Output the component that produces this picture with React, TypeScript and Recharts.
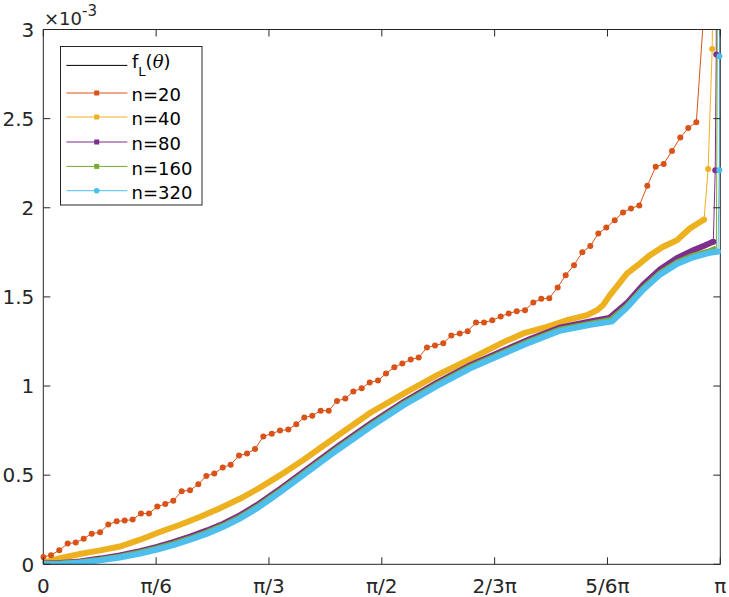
import React from 'react';
import { LineChart, Line, XAxis, YAxis, Legend, Customized } from 'recharts';

const CHART_W = 729;
const CHART_H = 597;
const AXIS_COLOR = '#262626';
const FONT = '"DejaVu Sans", "Liberation Sans", sans-serif';

const BLACK = '#000000';
const ORANGE = '#D95319';
const YELLOW = '#EDB120';
const PURPLE = '#7E2F8E';
const GREEN = '#77AC30';
const CYAN = '#4DBEEE';

// x in units of pi, y in units of 1e-3
const xTickValues = [0, 1 / 6, 1 / 3, 1 / 2, 2 / 3, 5 / 6, 1];
const xTickLabels = ['0', 'π/6', 'π/3', 'π/2', '2/3π', '5/6π', 'π'];
const yTickValues = [0, 0.5, 1, 1.5, 2, 2.5, 3];
const yTickLabels = ['0', '0.5', '1', '1.5', '2', '2.5', '3'];

const fLTheta = [0, 0.025, 0.054, 0.084, 0.113, 0.143, 0.168, 0.192, 0.217, 0.242, 0.266, 0.291, 0.316, 0.335, 0.35, 0.384, 0.434, 0.483, 0.531, 0.581, 0.63, 0.679, 0.719, 0.763, 0.808, 0.84, 0.862, 0.886, 0.911, 0.936, 0.96, 0.985, 1.0];
const fLValue = [0, 0.002, 0.009, 0.022, 0.038, 0.06, 0.083, 0.108, 0.138, 0.172, 0.21, 0.258, 0.315, 0.365, 0.405, 0.5, 0.64, 0.77, 0.89, 1.0, 1.098, 1.18, 1.245, 1.31, 1.343, 1.362, 1.44, 1.54, 1.625, 1.685, 1.722, 1.748, 1.756];

const n20Theta = [0, 0.0114, 0.0236, 0.036, 0.0479, 0.0597, 0.0715, 0.0838, 0.096, 0.1084, 0.1202, 0.132, 0.1443, 0.1561, 0.1684, 0.1802, 0.192, 0.2044, 0.2167, 0.229, 0.2408, 0.2526, 0.265, 0.2768, 0.2891, 0.3009, 0.3127, 0.325, 0.3374, 0.3496, 0.3619, 0.3737, 0.3855, 0.3973, 0.4097, 0.4216, 0.4338, 0.4461, 0.4579, 0.4703, 0.4821, 0.4944, 0.5062, 0.5185, 0.5303, 0.5427, 0.5545, 0.5667, 0.5786, 0.5908, 0.6027, 0.6151, 0.6269, 0.6391, 0.651, 0.6632, 0.6756, 0.6874, 0.6993, 0.7115, 0.7238, 0.7356, 0.7474, 0.7598, 0.7716, 0.7839, 0.7962, 0.808, 0.8198, 0.8316, 0.844, 0.8563, 0.8681, 0.8804, 0.8922, 0.9046, 0.9164, 0.9287, 0.9409, 0.9527, 0.9646, 0.9767, 0.9888, 1.0];
const n20Value = [0.041, 0.051, 0.079, 0.116, 0.122, 0.144, 0.172, 0.18, 0.223, 0.241, 0.245, 0.251, 0.285, 0.285, 0.324, 0.338, 0.357, 0.41, 0.415, 0.449, 0.496, 0.509, 0.543, 0.559, 0.61, 0.621, 0.647, 0.717, 0.733, 0.75, 0.756, 0.786, 0.823, 0.834, 0.862, 0.862, 0.916, 0.93, 0.969, 0.988, 1.02, 1.031, 1.07, 1.106, 1.126, 1.149, 1.16, 1.216, 1.227, 1.24, 1.283, 1.295, 1.308, 1.356, 1.356, 1.369, 1.39, 1.407, 1.42, 1.425, 1.469, 1.489, 1.493, 1.553, 1.622, 1.678, 1.751, 1.785, 1.856, 1.889, 1.93, 1.974, 1.996, 2.013, 2.123, 2.23, 2.246, 2.319, 2.394, 2.447, 2.48, 3.15, 6.0, 12.0];

const n40Theta = [0, 0.025, 0.054, 0.084, 0.113, 0.143, 0.172, 0.202, 0.231, 0.261, 0.291, 0.32, 0.35, 0.384, 0.434, 0.483, 0.531, 0.581, 0.63, 0.679, 0.709, 0.744, 0.774, 0.803, 0.818, 0.827, 0.837, 0.849, 0.862, 0.881, 0.896, 0.915, 0.936, 0.955, 0.976, 0.982, 0.988, 0.994, 1.0];
const n40Value = [0.01, 0.035, 0.058, 0.078, 0.1, 0.138, 0.181, 0.222, 0.265, 0.315, 0.369, 0.43, 0.5, 0.585, 0.72, 0.85, 0.955, 1.06, 1.15, 1.245, 1.295, 1.332, 1.37, 1.397, 1.425, 1.455, 1.51, 1.568, 1.631, 1.687, 1.734, 1.78, 1.818, 1.884, 1.934, 2.217, 2.89, 5.0, 12.0];

const n80Theta = [0, 0.025, 0.054, 0.084, 0.113, 0.143, 0.168, 0.192, 0.217, 0.242, 0.266, 0.291, 0.316, 0.335, 0.35, 0.384, 0.434, 0.483, 0.531, 0.581, 0.63, 0.679, 0.719, 0.763, 0.808, 0.836, 0.862, 0.886, 0.911, 0.936, 0.96, 0.977, 0.9897, 0.9925, 0.994, 0.9966, 1.0];
const n80Value = [0.004, 0.007, 0.016, 0.032, 0.05, 0.074, 0.098, 0.124, 0.155, 0.19, 0.228, 0.276, 0.333, 0.383, 0.423, 0.518, 0.658, 0.788, 0.908, 1.018, 1.116, 1.198, 1.263, 1.327, 1.362, 1.382, 1.465, 1.568, 1.655, 1.718, 1.762, 1.788, 1.81, 2.21, 2.86, 8.0, 20.0];

const n160Theta = [0, 0.025, 0.054, 0.084, 0.113, 0.143, 0.168, 0.192, 0.217, 0.242, 0.266, 0.291, 0.316, 0.335, 0.35, 0.384, 0.434, 0.483, 0.531, 0.581, 0.63, 0.679, 0.719, 0.763, 0.808, 0.838, 0.862, 0.886, 0.911, 0.936, 0.96, 0.985, 0.9941, 0.9948, 0.9954, 0.996, 1.0];
const n160Value = [0.001, 0.004, 0.012, 0.026, 0.043, 0.066, 0.089, 0.115, 0.145, 0.179, 0.217, 0.265, 0.322, 0.372, 0.412, 0.507, 0.647, 0.777, 0.897, 1.007, 1.105, 1.187, 1.252, 1.317, 1.35, 1.37, 1.448, 1.548, 1.633, 1.694, 1.732, 1.757, 1.772, 2.21, 2.86, 10.0, 25.0];

const n320Theta = [0, 0.025, 0.054, 0.084, 0.113, 0.143, 0.168, 0.192, 0.217, 0.242, 0.266, 0.291, 0.316, 0.335, 0.35, 0.384, 0.434, 0.483, 0.531, 0.581, 0.63, 0.679, 0.719, 0.763, 0.808, 0.84, 0.862, 0.886, 0.911, 0.936, 0.96, 0.985, 0.9966, 0.9985, 0.9987, 0.9993, 1.0];
const n320Value = [0, 0.002, 0.009, 0.022, 0.038, 0.06, 0.083, 0.108, 0.138, 0.172, 0.21, 0.258, 0.315, 0.365, 0.405, 0.5, 0.64, 0.77, 0.89, 1.0, 1.098, 1.18, 1.245, 1.31, 1.343, 1.362, 1.44, 1.54, 1.625, 1.685, 1.722, 1.748, 1.755, 2.21, 2.85, 10.0, 30.0];

type Pt = { x: number; y: number };
const zip = (t: number[], v: number[]): Pt[] => t.map((x, i) => ({ x, y: v[i] }));

// points that form the dense marker band, the rest is the thin tail near pi
const n40BandLen = 35;
const n80BandLen = 33;
const n160BandLen = 33;
const n320BandLen = 33;

const fL = zip(fLTheta, fLValue);
const n20 = zip(n20Theta, n20Value);
const n40 = zip(n40Theta, n40Value);
const n80 = zip(n80Theta, n80Value);
const n160 = zip(n160Theta, n160Value);
const n320 = zip(n320Theta, n320Value);

const band = (p: Pt[], n: number) => p.slice(0, n);
const tail = (p: Pt[], n: number) => p.slice(n - 1);

const BottomTick = (props: any) => {
  const { x, y, payload } = props;
  const i = xTickValues.findIndex((v) => Math.abs(v - payload.value) < 1e-9);
  return (
    <g>
      <line x1={x} x2={x} y1={y} y2={y - 7} stroke={AXIS_COLOR} strokeWidth={1} />
      <text x={x} y={y + 29} textAnchor="middle" fontFamily={FONT} fontSize={20} fill={AXIS_COLOR}>
        {xTickLabels[i]}
      </text>
    </g>
  );
};

const LeftTick = (props: any) => {
  const { x, y, payload } = props;
  const i = yTickValues.findIndex((v) => Math.abs(v - payload.value) < 1e-9);
  return (
    <g>
      <line x1={x} x2={x + 7} y1={y} y2={y} stroke={AXIS_COLOR} strokeWidth={1} />
      <text x={x - 9} y={y + 7.3} textAnchor="end" fontFamily={FONT} fontSize={20} fill={AXIS_COLOR}>
        {yTickLabels[i]}
      </text>
    </g>
  );
};

const EmptyTick = () => <g />;

const ExponentLabel = () => (
  <text x={44} y={25} fontFamily={FONT} fontSize={18} fill={AXIS_COLOR}>
    ×10
    <tspan fontSize={15} dy={-9}>
      -3
    </tspan>
  </text>
);

const legendRows = [
  { label: 'n=20', color: ORANGE, shape: 'square' },
  { label: 'n=40', color: YELLOW, shape: 'square' },
  { label: 'n=80', color: PURPLE, shape: 'square' },
  { label: 'n=160', color: GREEN, shape: 'square' },
  { label: 'n=320', color: CYAN, shape: 'circle' },
];
const legendRowY = [47, 71, 96, 120.4, 144.7];

const LegendBox = () => (
  <svg width={143} height={160} style={{ display: 'block' }}>
    <rect x={0.5} y={0.5} width={141.5} height={158.5} fill="#ffffff" stroke={AXIS_COLOR} strokeWidth={1} />
    <line x1={6.4} x2={67.4} y1={19.4} y2={19.4} stroke={BLACK} strokeWidth={1} />
    <text x={72} y={22.4} fontFamily={FONT} fontSize={18} fill="#000">
      f
      <tspan fontSize={13} dy={8}>
        L
      </tspan>
      <tspan dy={-8}>(</tspan>
      <tspan fontFamily='"DejaVu Serif", serif' fontStyle="italic">
        θ
      </tspan>
      )
    </text>
    {legendRows.map((r, i) => {
      const y = legendRowY[i];
      return (
        <g key={r.label}>
          <line x1={6.4} x2={67.4} y1={y} y2={y} stroke={r.color} strokeWidth={1} />
          {r.shape === 'circle' ? (
            <circle cx={36.7} cy={y} r={2.8} fill={r.color} />
          ) : (
            <rect x={34.2} y={y - 2.5} width={5} height={5} fill={r.color} />
          )}
          <text x={71.5} y={y + 8.4} fontFamily={FONT} fontSize={18} fill="#000">
            {r.label}
          </text>
        </g>
      );
    })}
  </svg>
);

const dotStyle = (c: string) => ({ r: 3, fill: c, stroke: c, strokeWidth: 0, clipDot: false });

export default function App() {
  return (
    <div style={{ position: 'absolute', left: 0, top: 0, width: CHART_W, height: CHART_H, background: '#fff' }}>
      <LineChart width={CHART_W} height={CHART_H} margin={{ top: 28.5, right: 7.7, bottom: 0, left: 0 }}>
        <XAxis
          xAxisId={0}
          dataKey="x"
          type="number"
          domain={[0, 1]}
          ticks={xTickValues}
          interval={0}
          allowDataOverflow
          height={32.7}
          tickSize={0}
          tickMargin={0}
          tickLine={false}
          axisLine={{ stroke: AXIS_COLOR, strokeWidth: 1 }}
          tick={BottomTick}
        />
        <XAxis
          xAxisId="top"
          orientation="top"
          dataKey="x"
          type="number"
          domain={[0, 1]}
          ticks={xTickValues}
          interval={0}
          allowDataOverflow
          height={1}
          tickSize={-7}
          tickMargin={0}
          tickLine={{ stroke: AXIS_COLOR, strokeWidth: 1 }}
          axisLine={{ stroke: AXIS_COLOR, strokeWidth: 1 }}
          tick={EmptyTick}
        />
        <YAxis
          yAxisId={0}
          type="number"
          domain={[0, 3]}
          ticks={yTickValues}
          interval={0}
          allowDataOverflow
          width={43.3}
          tickSize={0}
          tickMargin={0}
          tickLine={false}
          axisLine={{ stroke: AXIS_COLOR, strokeWidth: 1 }}
          tick={LeftTick}
        />
        <YAxis
          yAxisId="right"
          orientation="right"
          type="number"
          domain={[0, 3]}
          ticks={yTickValues}
          interval={0}
          allowDataOverflow
          width={1}
          tickSize={-7}
          tickMargin={0}
          tickLine={{ stroke: AXIS_COLOR, strokeWidth: 1 }}
          axisLine={{ stroke: AXIS_COLOR, strokeWidth: 1 }}
          tick={EmptyTick}
        />

        <Line data={fL} xAxisId="top" yAxisId="right" dataKey="y" name="fL" type="linear" stroke={BLACK} strokeWidth={1} dot={false} activeDot={false} isAnimationActive={false} />

        <Line data={n20} dataKey="y" name="n20" type="linear" stroke={ORANGE} strokeWidth={1} dot={dotStyle(ORANGE)} activeDot={false} isAnimationActive={false} />

        <Line data={band(n40, n40BandLen)} dataKey="y" name="n40band" type="linear" stroke={YELLOW} strokeWidth={6} dot={false} activeDot={false} isAnimationActive={false} />
        <Line data={tail(n40, n40BandLen)} dataKey="y" name="n40tail" type="linear" stroke={YELLOW} strokeWidth={1} dot={dotStyle(YELLOW)} activeDot={false} isAnimationActive={false} />

        <Line data={band(n80, n80BandLen)} dataKey="y" name="n80band" type="linear" stroke={PURPLE} strokeWidth={6} dot={false} activeDot={false} isAnimationActive={false} />
        <Line data={tail(n80, n80BandLen)} dataKey="y" name="n80tail" type="linear" stroke={PURPLE} strokeWidth={1} dot={dotStyle(PURPLE)} activeDot={false} isAnimationActive={false} />

        <Line data={band(n160, n160BandLen)} dataKey="y" name="n160band" type="linear" stroke={GREEN} strokeWidth={6} dot={false} activeDot={false} isAnimationActive={false} />
        <Line data={tail(n160, n160BandLen)} dataKey="y" name="n160tail" type="linear" stroke={GREEN} strokeWidth={1} dot={false} activeDot={false} isAnimationActive={false} />

        <Line data={band(n320, n320BandLen)} dataKey="y" name="n320band" type="linear" stroke={CYAN} strokeWidth={6} dot={false} activeDot={false} isAnimationActive={false} />
        <Line data={tail(n320, n320BandLen)} dataKey="y" name="n320tail" type="linear" stroke={CYAN} strokeWidth={1} dot={dotStyle(CYAN)} activeDot={false} isAnimationActive={false} />

        <Customized component={ExponentLabel} />

        <Legend
          layout="horizontal"
          verticalAlign="middle"
          align="center"
          wrapperStyle={{ left: 60, top: 46, width: 143, height: 160, lineHeight: 0 }}
          content={() => <LegendBox />}
        />
      </LineChart>
    </div>
  );
}
